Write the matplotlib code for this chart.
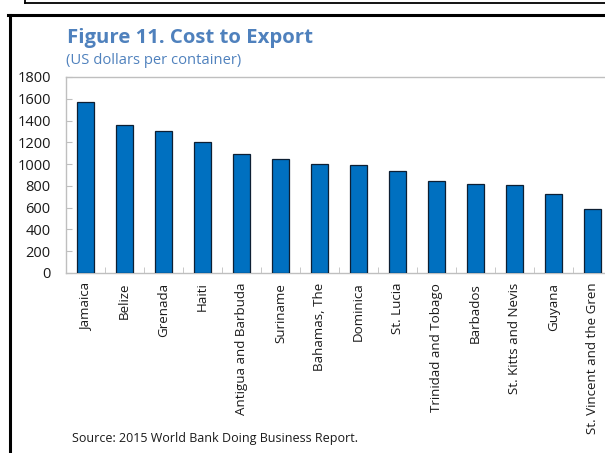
import matplotlib.pyplot as plt
from matplotlib.lines import Line2D

countries = ['Jamaica', 'Belize', 'Grenada', 'Haiti', 'Antigua and Barbuda',
             'Suriname', 'Bahamas, The', 'Dominica', 'St. Lucia',
             'Trinidad and Tobago', 'Barbados', 'St. Kitts and Nevis', 'Guyana',
             'St. Vincent and the Gren']
cost = [1570, 1355, 1300, 1200, 1090, 1050, 1005, 990, 935, 843, 815, 805, 730, 585]
yticks = list(range(0, 1801, 200))

plt.rcParams['font.family'] = ['Open Sans', 'DejaVu Sans']

fig = plt.figure(figsize=(6.05, 4.53), dpi=100)
ax = fig.add_axes([66 / 605, 180 / 453, 546 / 605, 196 / 453])

x = range(len(countries))
ax.bar(x, cost, width=0.46, color='#0070C0', edgecolor='#0d1f33', linewidth=0.9, zorder=3)

ax.set_xlim(-0.5, len(countries) - 0.5)
ax.set_ylim(0, 1800)
ax.set_yticks(yticks)
ax.set_yticklabels([str(v) for v in yticks], fontsize=10.5, color='#1a1a1a')
ax.set_xticks(list(x))
ax.set_xticklabels(countries, rotation=90, fontsize=9.6, color='#1a1a1a')
ax.set_xticks([i - 0.5 for i in range(1, len(countries))], minor=True)

ax.tick_params(axis='y', direction='in', length=4, color='#bfbfbf', pad=11)
ax.tick_params(axis='x', which='major', length=0, pad=7)
ax.tick_params(axis='x', which='minor', direction='in', length=4, color='#bfbfbf')

for side in ['left', 'bottom', 'top']:
    ax.spines[side].set_color('#bfbfbf')
    ax.spines[side].set_linewidth(1.0)
ax.spines['right'].set_visible(False)

fig.text(67 / 605, 1 - 43 / 453, 'Figure 11. Cost to Export', fontsize=14.7,
         fontweight='bold', color='#4F81BD', va='baseline')
fig.text(66 / 605, 1 - 64 / 453, '(US dollars per container)', fontsize=10.6,
         color='#4F81BD', va='baseline')
fig.text(72 / 605, 1 - 442 / 453, 'Source: 2015 World Bank Doing Business Report.',
         fontsize=9.0, color='#1a1a1a', va='baseline')

# frame lines around the panel
W, H = 605, 453
fig.add_artist(Line2D([8 / W, 1], [1 - 15 / H] * 2, color='black', linewidth=2.2))
fig.add_artist(Line2D([10 / W] * 2, [1 - 15 / H, 0], color='black', linewidth=2.2))
fig.add_artist(Line2D([25 / W, 1], [1 - 3 / H] * 2, color='black', linewidth=1.3))
fig.add_artist(Line2D([25 / W] * 2, [1 - 3 / H, 1], color='black', linewidth=1.3))

fig.savefig('out.png', dpi=100)
